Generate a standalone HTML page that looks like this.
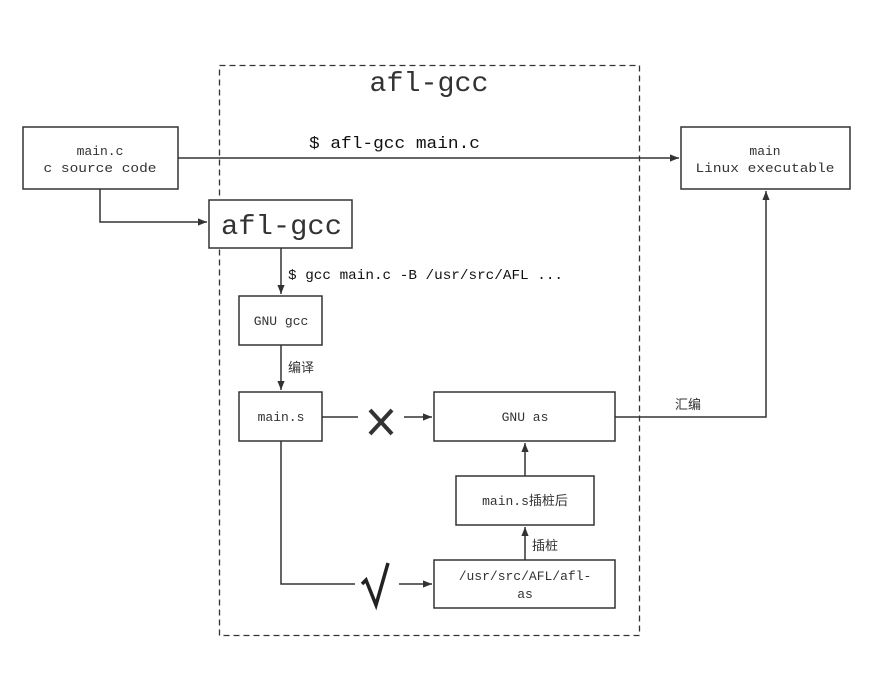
<!DOCTYPE html>
<html><head><meta charset="utf-8"><style>html,body{margin:0;padding:0;background:#fff}svg{display:block}</style></head>
<body>
<svg width="874" height="675" viewBox="0 0 874 675" xmlns="http://www.w3.org/2000/svg" font-family="'Liberation Mono','Noto Sans CJK SC',monospace" fill="#333">
<defs><marker id="a" viewBox="0 0 10 10" refX="10" refY="5" markerWidth="9" markerHeight="9" markerUnits="userSpaceOnUse" orient="auto"><path d="M0,1 L10,5 L0,9 z" fill="#333"/></marker></defs>
<rect x="219.5" y="65.5" width="420" height="570" fill="none" stroke="#333" stroke-width="1.3" stroke-dasharray="6,4"/>
<text x="429" y="91" font-size="28" text-anchor="middle" textLength="119" lengthAdjust="spacingAndGlyphs">afl-gcc</text>
<g fill="#fff" stroke="#333" stroke-width="1.5">
<rect x="23" y="127" width="155" height="62"/>
<rect x="681" y="127" width="169" height="62"/>
<rect x="209" y="200" width="143" height="48"/>
<rect x="239" y="296" width="83" height="49"/>
<rect x="239" y="392" width="83" height="49"/>
<rect x="434" y="392" width="181" height="49"/>
<rect x="456" y="476" width="138" height="49"/>
<rect x="434" y="560" width="181" height="48"/>
</g>
<g fill="none" stroke="#333" stroke-width="1.5">
<path d="M178,158 H679" marker-end="url(#a)"/>
<path d="M100,189 V222 H207" marker-end="url(#a)"/>
<path d="M281,248 V294" marker-end="url(#a)"/>
<path d="M281,345 V390" marker-end="url(#a)"/>
<path d="M322,417 H358"/>
<path d="M404,417 H432" marker-end="url(#a)"/>
<path d="M525,476 V443" marker-end="url(#a)"/>
<path d="M525,560 V527" marker-end="url(#a)"/>
<path d="M281,441 V584 H355"/>
<path d="M399,584 H432" marker-end="url(#a)"/>
<path d="M615,417 H766 V191" marker-end="url(#a)"/>
<path d="M370,410 L392,434 M392,410 L370,434" stroke-width="4"/>
<path d="M362,584 L366,580 L376,605 L388,563" stroke="#222" stroke-width="3.5" stroke-linejoin="miter"/>
</g>
<text x="100" y="155" font-size="13" text-anchor="middle">main.c</text>
<text x="100" y="172" font-size="13" text-anchor="middle" textLength="113" lengthAdjust="spacingAndGlyphs">c source code</text>
<text x="765" y="155" font-size="13" text-anchor="middle">main</text>
<text x="765" y="172" font-size="13" text-anchor="middle" textLength="139" lengthAdjust="spacingAndGlyphs">Linux executable</text>
<text x="309" y="148" font-size="17" fill="#111" textLength="171" lengthAdjust="spacingAndGlyphs">$ afl-gcc main.c</text>
<text x="221" y="234" font-size="28" textLength="121" lengthAdjust="spacingAndGlyphs">afl-gcc</text>
<text x="288" y="279" font-size="14" fill="#111" textLength="275" lengthAdjust="spacingAndGlyphs">$ gcc main.c -B /usr/src/AFL ...</text>
<text x="281" y="325" font-size="13" text-anchor="middle">GNU gcc</text>
<text x="288" y="372" font-size="13">编译</text>
<text x="281" y="421" font-size="13" text-anchor="middle">main.s</text>
<text x="525" y="421" font-size="13" text-anchor="middle">GNU as</text>
<text x="525" y="505" font-size="13" text-anchor="middle">main.s插桩后</text>
<text x="532" y="550" font-size="13">插桩</text>
<text x="525" y="580" font-size="13" text-anchor="middle">/usr/src/AFL/afl-</text>
<text x="525" y="598" font-size="13" text-anchor="middle">as</text>
<text x="675" y="409" font-size="13">汇编</text>
</svg>
</body></html>
